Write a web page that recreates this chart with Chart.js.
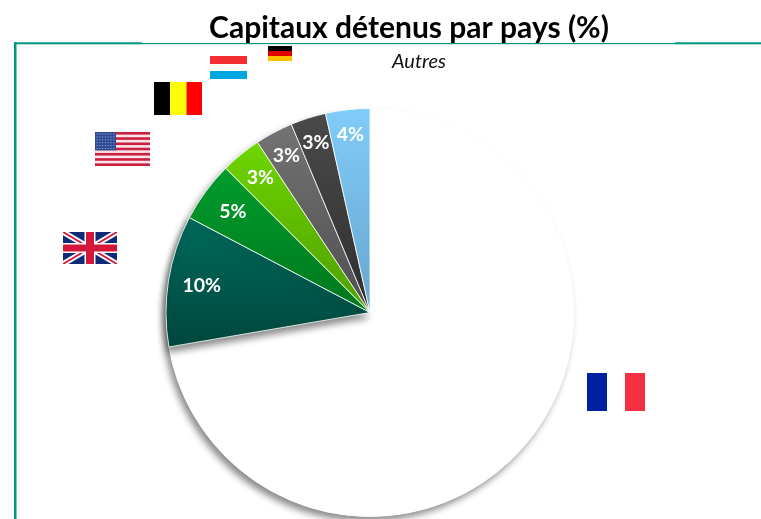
<!DOCTYPE html>
<html lang="fr">
<head>
<meta charset="utf-8">
<title>Capitaux détenus par pays (%)</title>
<script src="https://cdn.jsdelivr.net/npm/chart.js@4"></script>
<style>
html,body{margin:0;padding:0;background:#fff;width:761px;height:519px;overflow:hidden}
canvas{display:block}
</style>
</head>
<body>
<canvas id="c" width="761" height="519" style="width:761px;height:519px"></canvas>
<script>
const categories = ['France','Royaume-Uni','États-Unis','Belgique','Luxembourg','Allemagne','Autres'];
const shareValues = [72.3, 10.4, 4.8, 3.2, 3.0, 2.8, 3.5];
const gradientTop = ['#ffffff','#006a5c','#009c2c','#6ed600','#737373','#4a4a4a','#80ccf8'];
const gradientBottom = ['#ffffff','#00473d','#00771e','#4f9e00','#4f4f4f','#2f2f2f','#68a6cf'];
const labelRadius = [0, 0.835, 0.835, 0.85, 0.87, 0.875, 0.875];
const titleText = 'Capitaux détenus par pays (%)';
const TEAL = '#009581';

function sliceGradient(context){
  const chart = context.chart, i = context.dataIndex, a = chart.chartArea;
  if(!a) return gradientTop[i];
  const total = shareValues.reduce((s,v)=>s+v,0);
  let before = 0;
  for(let k=0;k<i;k++) before += shareValues[k];
  const a0 = before/total*2*Math.PI, a1 = (before+shareValues[i])/total*2*Math.PI;
  const cy = (a.top+a.bottom)/2, R = a.height/2;
  const ys = [cy, cy-R*Math.cos(a0), cy-R*Math.cos(a1)];
  const g = chart.ctx.createLinearGradient(0,Math.min(...ys),0,Math.max(...ys));
  g.addColorStop(0,gradientTop[i]);
  g.addColorStop(1,gradientBottom[i]);
  return g;
}

function flagFrance(ctx){
  ctx.fillStyle='#00209f';ctx.fillRect(587,373,20,38);
  ctx.fillStyle='#f72f45';ctx.fillRect(625,373,20,38);
}
function flagBelgium(ctx){
  ctx.fillStyle='#000';ctx.fillRect(154,82,16,33);
  ctx.fillStyle='#ffff00';ctx.fillRect(170,82,16.5,33);
  ctx.fillStyle='#ff0000';ctx.fillRect(186.5,82,15.5,33);
}
function flagLuxembourg(ctx){
  ctx.fillStyle='#f42f34';ctx.fillRect(210,56,37,8);
  ctx.fillStyle='#00a6e0';ctx.fillRect(210,71,37,8);
}
function flagGermany(ctx){
  ctx.fillStyle='#000';ctx.fillRect(268,46,24,5);
  ctx.fillStyle='#e00000';ctx.fillRect(268,51,24,5);
  ctx.fillStyle='#ffc000';ctx.fillRect(268,56,24,5);
}
function flagUSA(ctx){
  const x=95,y=132,w=55,h=34,n=13,sh=h/n;
  ctx.fillStyle='#fbe3ea';ctx.fillRect(x,y,w,h);
  ctx.fillStyle='#c8203e';
  for(let k=0;k<n;k+=2) ctx.fillRect(x,y+k*sh,w,sh);
  ctx.fillStyle='#2e4a94';ctx.fillRect(x,y,21,sh*7);
  ctx.fillStyle='#aab6d8';
  for(let r=0;r<6;r++) for(let c=0;c<7;c++) ctx.fillRect(x+1.5+c*2.8,y+1.5+r*2.9,1,1);
}
function flagUK(ctx){
  const x=63,y=232,w=54,h=32;
  ctx.save();
  ctx.beginPath();ctx.rect(x,y,w,h);ctx.clip();
  ctx.fillStyle='#0f2a78';ctx.fillRect(x,y,w,h);
  const diag=(col,lw)=>{ctx.strokeStyle=col;ctx.lineWidth=lw;ctx.beginPath();
    ctx.moveTo(x,y);ctx.lineTo(x+w,y+h);ctx.moveTo(x+w,y);ctx.lineTo(x,y+h);ctx.stroke();};
  diag('#ffffff',5.5);diag('#d4163a',1.8);
  ctx.fillStyle='#ffffff';ctx.fillRect(x+w/2-5.5,y,11,h);ctx.fillRect(x,y+h/2-5,w,10);
  ctx.fillStyle='#d4163a';ctx.fillRect(x+w/2-4,y,8,h);ctx.fillRect(x,y+h/2-3.5,w,7);
  ctx.restore();
}

const decorPlugin = {
  id:'decor',
  afterLayout(chart){
    const t = chart.titleBlock;
    if(t){ t.left += 39; t.right += 39; }
  },
  beforeDraw(chart){
    const ctx = chart.ctx;
    ctx.save();
    ctx.fillStyle='#fff';ctx.fillRect(0,0,chart.width,chart.height);
    ctx.fillStyle=TEAL;
    ctx.fillRect(14,42.3,2.5,477);
    ctx.fillRect(14,42.3,128,2);
    ctx.fillRect(142,43,533,1.2);
    ctx.fillRect(675,42.3,86,2);
    flagFrance(ctx);flagUK(ctx);flagUSA(ctx);flagBelgium(ctx);flagLuxembourg(ctx);flagGermany(ctx);
    ctx.restore();
  },
  beforeDatasetDraw(chart){
    const ctx = chart.ctx, arcs = chart.getDatasetMeta(0).data;
    const first = arcs[0];
    ctx.save();
    ctx.shadowColor='rgba(0,0,0,0.45)';
    ctx.shadowBlur=7;
    ctx.shadowOffsetX=-3.5;
    ctx.shadowOffsetY=5;
    ctx.fillStyle='#fff';
    ctx.beginPath();
    ctx.arc(first.x,first.y,first.outerRadius,0,2*Math.PI);
    ctx.fill();
    ctx.restore();
    const uk = arcs[1];
    if(!uk.$wrapped){
      const base = uk.draw;
      uk.draw = function(c,area){
        c.save();
        c.shadowColor='rgba(0,0,0,0.45)';
        c.shadowBlur=7;
        c.shadowOffsetX=-1;
        c.shadowOffsetY=5;
        base.call(this,c,area);
        c.restore();
      };
      uk.$wrapped = true;
    }
  },
  afterDatasetsDraw(chart){
    const ctx = chart.ctx, arcs = chart.getDatasetMeta(0).data;
    ctx.save();
    ctx.textAlign='center';
    ctx.textBaseline='middle';
    ctx.fillStyle='#fff';
    ctx.font='bold 19.5px Lato';
    arcs.forEach((arc,i)=>{
      if(i===0) return;
      const mid=(arc.startAngle+arc.endAngle)/2;
      const r=arc.outerRadius*labelRadius[i];
      ctx.fillText(Math.round(shareValues[i])+'%',arc.x+Math.cos(mid)*r,arc.y+Math.sin(mid)*r);
    });
    ctx.fillStyle='#111';
    ctx.font='italic 20px Lato';
    ctx.fillText(categories[6],419,62);
    ctx.restore();
  }
};

new Chart(document.getElementById('c'),{
  type:'pie',
  data:{
    labels:categories,
    datasets:[{
      data:shareValues,
      backgroundColor:sliceGradient,
      borderColor:'rgba(255,255,255,0.8)',
      borderWidth:1
    }]
  },
  options:{
    responsive:false,
    animation:false,
    events:[],
    layout:{padding:{left:0,right:21,top:0,bottom:2}},
    plugins:{
      legend:{display:false},
      tooltip:{enabled:false},
      title:{
        display:true,
        text:titleText,
        color:'#000',
        font:{family:'Lato',size:30,weight:'bold',lineHeight:1.2},
        padding:{top:10,bottom:62}
      }
    }
  },
  plugins:[decorPlugin]
});
</script>
</body>
</html>
